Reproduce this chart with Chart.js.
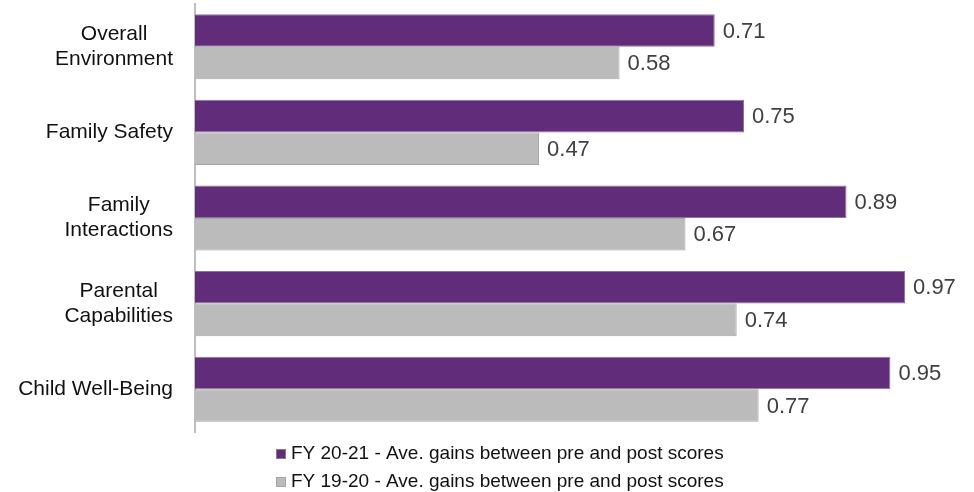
<!DOCTYPE html>
<html>
<head>
<meta charset="utf-8">
<script src="https://cdn.jsdelivr.net/npm/chart.js@4"></script>
<style>
  html, body { margin: 0; padding: 0; background: #ffffff; }
  #wrap { width: 974px; height: 492px; }
</style>
</head>
<body>
<div id="wrap"><canvas id="chart" width="974" height="492"></canvas></div>
<script>
// Domains of the assessment, one per row (multi-line labels as arrays)
const categories = [
  ['Overall', 'Environment'],
  ['Family Safety'],
  ['Family', 'Interactions'],
  ['Parental', 'Capabilities'],
  ['Child Well-Being']
];

// Average gains between pre and post scores
const fy2021 = [0.71, 0.75, 0.89, 0.97, 0.95];
const fy1920 = [0.58, 0.47, 0.67, 0.74, 0.77];

const seriesLabels = [
  'FY 20-21 - Ave. gains between pre and post scores',
  'FY 19-20 - Ave. gains between pre and post scores'
];

const PURPLE = '#612C7A';
const GREY = '#BBBBBB';
const FONT = '"Liberation Sans", Arial, sans-serif';

// Category names: each block right-aligned, its lines centred on each other
const categoryLabels = {
  id: 'categoryLabels',
  afterDraw(chart) {
    const {ctx, chartArea} = chart;
    const yScale = chart.scales.y;
    const right = chartArea.left - 22;
    const lineH = 25;
    ctx.save();
    ctx.font = '21px ' + FONT;
    ctx.fillStyle = '#111111';
    ctx.textAlign = 'center';
    ctx.textBaseline = 'middle';
    categories.forEach((lines, i) => {
      const cy = yScale.getPixelForTick(i);
      const w = Math.max(...lines.map(l => ctx.measureText(l).width));
      const cx = right - w / 2;
      const top = cy - (lines.length - 1) * lineH / 2;
      lines.forEach((l, j) => ctx.fillText(l, cx, top + j * lineH));
    });
    ctx.restore();
  }
};

// Value printed just past the end of every bar
const valueLabels = {
  id: 'valueLabels',
  afterDatasetsDraw(chart) {
    const {ctx} = chart;
    ctx.save();
    ctx.font = '22px ' + FONT;
    ctx.fillStyle = '#404040';
    ctx.textAlign = 'left';
    ctx.textBaseline = 'middle';
    chart.data.datasets.forEach((ds, di) => {
      chart.getDatasetMeta(di).data.forEach((bar, i) => {
        ctx.fillText(ds.data[i].toFixed(2), bar.x + 8, bar.y + 1);
      });
    });
    ctx.restore();
  }
};

// Two-row legend under the plot
const bottomLegend = {
  id: 'bottomLegend',
  afterDraw(chart) {
    const {ctx} = chart;
    const rows = [454, 482];
    const boxX = 276;
    ctx.save();
    ctx.font = '19px ' + FONT;
    ctx.textAlign = 'left';
    ctx.textBaseline = 'middle';
    chart.data.datasets.forEach((ds, i) => {
      const y = rows[i];
      ctx.fillStyle = ds.backgroundColor;
      ctx.fillRect(boxX, y - 5, 10, 10);
      ctx.strokeStyle = ds.borderColor;
      ctx.lineWidth = 1;
      ctx.strokeRect(boxX + 0.5, y - 4.5, 9, 9);
      ctx.fillStyle = '#111111';
      ctx.fillText(ds.label, boxX + 15, y);
    });
    ctx.restore();
  }
};

new Chart(document.getElementById('chart'), {
  type: 'bar',
  data: {
    labels: categories.map(c => c.join(' ')),
    datasets: [
      {
        label: seriesLabels[0],
        data: fy2021,
        backgroundColor: PURPLE,
        borderColor: '#8A7596',
        borderWidth: 1,
        borderSkipped: 'left'
      },
      {
        label: seriesLabels[1],
        data: fy1920,
        backgroundColor: GREY,
        borderColor: '#A5A5A5',
        borderWidth: 1,
        borderSkipped: 'left'
      }
    ]
  },
  options: {
    indexAxis: 'y',
    responsive: false,
    animation: false,
    events: [],
    layout: { padding: { top: 4, right: 47, bottom: 60, left: 0 } },
    datasets: { bar: { categoryPercentage: 0.76, barPercentage: 1.0 } },
    scales: {
      x: { display: false, min: 0, max: 1.0 },
      y: {
        afterFit(scale) { scale.width = 195; },
        grid: { display: false, drawTicks: false },
        border: { display: true, color: '#BFBFBF', width: 2 },
        ticks: { display: false }
      }
    },
    plugins: {
      legend: { display: false },
      tooltip: { enabled: false }
    }
  },
  plugins: [categoryLabels, valueLabels, bottomLegend]
});
</script>
</body>
</html>
